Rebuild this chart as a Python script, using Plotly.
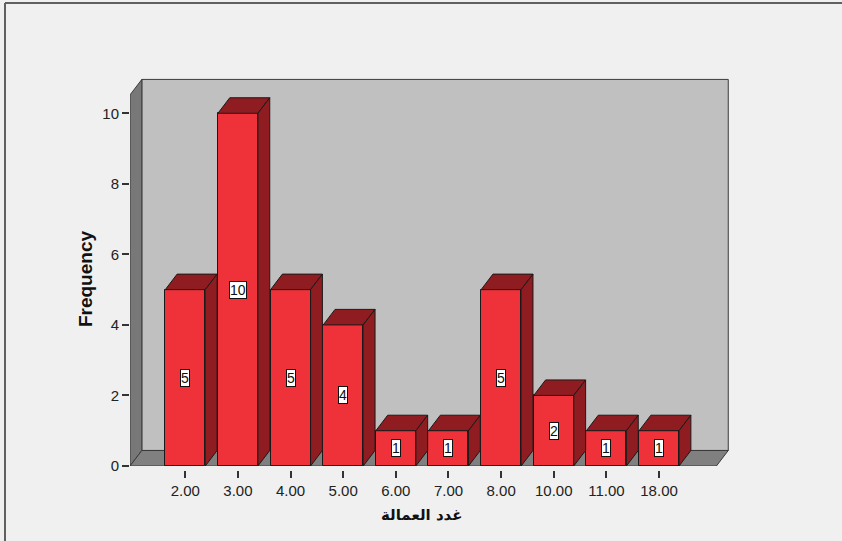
import plotly.graph_objects as go

# Frequency table of the worker-count variable
categories = ["2.00", "3.00", "4.00", "5.00", "6.00", "7.00", "8.00", "10.00", "11.00", "18.00"]
frequencies = [5, 10, 5, 4, 1, 1, 5, 2, 1, 1]
y_ticks = [0, 2, 4, 6, 8, 10]

x_title = "غدد العمالة"
y_title = "Frequency"

FRONT = "#ef323a"
SHADE = "#8e1c20"
EDGE = "#1a1a1a"

# pseudo-3D depth expressed in axis units
DX, DY = 0.225, 0.44
BAR_W = 0.76
X_LO, X_HI = -1.05, len(categories) - 1 + 1.09
Y_TOP = 10.52

xs = list(range(len(categories)))

fig = go.Figure()

# front faces of the bars
fig.add_trace(go.Bar(
    x=xs, y=frequencies, width=BAR_W,
    marker=dict(color=FRONT, line=dict(color=EDGE, width=1)),
    hoverinfo="skip", showlegend=False,
))

# top and side faces of each bar
for x, v in zip(xs, frequencies):
    l, r = x - BAR_W / 2, x + BAR_W / 2
    top_x = [l, r, r + DX, l + DX, l]
    top_y = [v, v, v + DY, v + DY, v]
    side_x = [r, r + DX, r + DX, r, r]
    side_y = [0, DY, v + DY, v, 0]
    for px, py in ((top_x, top_y), (side_x, side_y)):
        fig.add_trace(go.Scatter(
            x=px, y=py, mode="lines", fill="toself", fillcolor=SHADE,
            line=dict(color=EDGE, width=1), hoverinfo="skip", showlegend=False,
        ))

# value labels in the middle of each bar
for x, v in zip(xs, frequencies):
    fig.add_annotation(
        x=x, y=v / 2, text=str(v), showarrow=False,
        font=dict(family="Liberation Sans, Arial", size=14, color="#111"),
        bgcolor="white", bordercolor="#111", borderwidth=1, borderpad=0,
    )

# walls and floor of the chart box
shapes = [
    dict(type="rect", x0=X_LO + DX, x1=X_HI + DX, y0=DY, y1=Y_TOP + DY,
         fillcolor="#c0c0c0", line=dict(color="#3a3a3a", width=1), layer="below"),
    dict(type="path",
         path=f"M {X_LO},0 L {X_LO + DX},{DY} L {X_LO + DX},{Y_TOP + DY} L {X_LO},{Y_TOP} Z",
         fillcolor="#787878", line=dict(color="#3a3a3a", width=1), layer="below"),
    dict(type="path",
         path=f"M {X_LO},0 L {X_HI},0 L {X_HI + DX},{DY} L {X_LO + DX},{DY} Z",
         fillcolor="#808080", line=dict(color="#3a3a3a", width=1), layer="below"),
]
for s in shapes:
    s["xref"] = "x"
    s["yref"] = "y"
# outer frame edges (top and left)
shapes.append(dict(type="line", xref="paper", yref="paper", x0=-0.2073, x1=1.3,
                   y0=1.1915, y1=1.1915, line=dict(color="#606060", width=2)))
shapes.append(dict(type="line", xref="paper", yref="paper", x0=-0.2073, x1=-0.2073,
                   y0=-0.2, y1=1.1915, line=dict(color="#606060", width=2)))
fig.update_layout(shapes=shapes)

fig.add_annotation(
    x=4.5, xref="x", xanchor="center", y=-0.115, yref="paper", yanchor="middle",
    text=f"<b>{x_title}</b>", showarrow=False,
    font=dict(family="DejaVu Sans, Arial", size=15, color="#111"),
)
fig.add_annotation(
    x=-0.0746, xref="paper", xanchor="center", y=5.3, yref="y", yanchor="middle",
    textangle=-90, text=f"<b>{y_title}</b>", showarrow=False,
    font=dict(family="Liberation Sans, Arial", size=19, color="#111"),
)

fig.update_layout(
    width=842, height=541, autosize=False,
    margin=dict(l=130, r=842 - 733, t=78, b=71),
    paper_bgcolor="#f0f0f0", plot_bgcolor="#f0f0f0",
    bargap=0,
    xaxis=dict(
        range=[X_LO, X_HI + DX + 0.09], tickvals=xs, ticktext=categories,
        showgrid=False, zeroline=False, showline=False,
        ticks="outside", ticklen=7, tickcolor="#333", tickwidth=1.5,
        tickfont=dict(family="Liberation Sans, Arial", size=15, color="#222"),
        anchor="free", position=0, fixedrange=True,
    ),
    yaxis=dict(
        range=[0, 11.0], domain=[4 / 392, 1], tickvals=y_ticks,
        showgrid=False, zeroline=False, showline=False,
        ticks="outside", ticklen=7, tickcolor="#333", tickwidth=1.5,
        tickfont=dict(family="Liberation Sans, Arial", size=15, color="#222"),
        fixedrange=True,
    ),
)

fig.write_html("out.html")
